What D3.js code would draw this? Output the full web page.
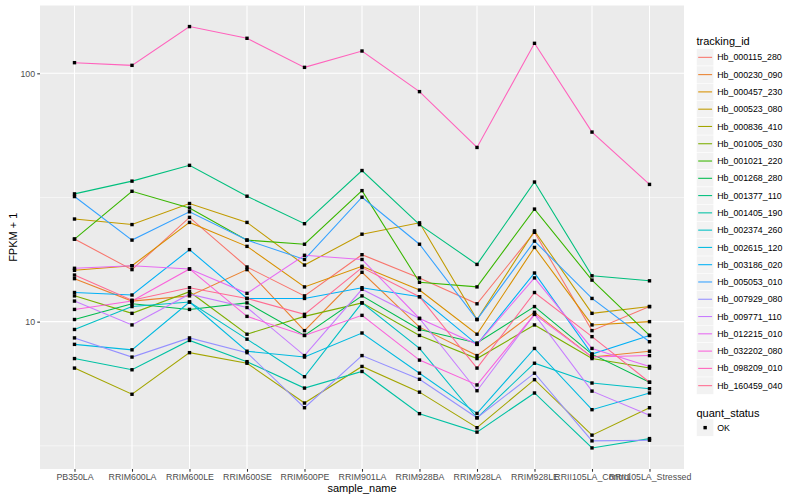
<!DOCTYPE html>
<html>
<head>
<meta charset="utf-8">
<script src="https://cdn.jsdelivr.net/npm/d3@7"></script>
<style>
  body { margin: 0; background: #fff; }
  text { font-family: "Liberation Sans", Arial, sans-serif; }
</style>
</head>
<body>
<svg id="chart" width="800" height="500"></svg>
<script>
// x categories
const samples = ["PB350LA", "RRIM600LA", "RRIM600LE", "RRIM600SE", "RRIM600PE", "RRIM901LA",
  "RRIM928BA", "RRIM928LA", "RRIM928LE", "RRII105LA_Control", "RRII105LA_Stressed"];

// FPKM + 1 per gene, same order as samples
const hb000115_280 = [21.5, 16.2, 26.3, 16.6, 12.7, 18.6, 15.0, 11.8, 22.9, 9.2, 11.5];
const hb000230_090 = [14.9, 12.1, 12.7, 16.2, 9.2, 15.8, 9.5, 7.3, 10.9, 7.2, 7.6];
const hb000457_230 = [16.1, 16.8, 25.1, 20.1, 13.8, 16.7, 13.4, 8.9, 19.9, 9.7, 10.0];
const hb000523_080 = [25.9, 24.6, 29.9, 25.1, 16.9, 22.5, 25.0, 10.2, 23.2, 10.8, 11.5];
const hb000836_410 = [6.5, 5.1, 7.5, 6.8, 4.7, 6.6, 5.2, 3.74, 5.84, 3.49, 4.5];
const hb001005_030 = [12.7, 10.8, 13.2, 8.9, 10.5, 11.9, 8.8, 7.1, 9.7, 7.1, 6.5];
const hb001021_220 = [21.5, 33.5, 28.7, 21.3, 20.5, 33.7, 14.4, 13.8, 28.4, 14.7, 8.8];
const hb001268_280 = [10.2, 11.8, 11.2, 11.9, 8.8, 12.7, 9.3, 8.2, 11.5, 7.4, 5.7];
const hb001377_110 = [32.7, 36.8, 42.6, 32.0, 24.8, 40.6, 24.6, 17.0, 36.5, 15.3, 14.6];
const hb001405_190 = [7.1, 6.4, 8.4, 6.9, 5.4, 6.3, 4.26, 3.59, 5.16, 3.10, 3.38];
const hb002374_260 = [9.3, 11.5, 12.0, 8.5, 6.0, 11.9, 7.8, 4.1, 6.8, 5.66, 5.37];
const hb002615_120 = [8.1, 7.7, 12.0, 7.6, 7.2, 9.0, 6.2, 4.27, 7.8, 4.42, 5.16];
const hb003186_020 = [13.1, 12.8, 19.5, 12.4, 12.4, 13.7, 12.6, 8.1, 15.7, 7.4, 8.8];
const hb005053_010 = [31.9, 21.3, 27.7, 21.3, 17.8, 31.7, 20.5, 10.2, 21.1, 12.4, 8.3];
const hb007929_080 = [8.6, 7.2, 8.6, 7.5, 4.5, 7.3, 5.86, 4.1, 6.2, 3.31, 3.33];
const hb009771_110 = [12.1, 9.7, 12.9, 11.4, 7.3, 13.5, 10.3, 5.27, 10.7, 5.25, 4.2];
const hb012215_010 = [16.4, 16.8, 16.3, 13.0, 18.5, 17.8, 10.3, 8.1, 15.0, 7.8, 6.6];
const hb032202_080 = [11.2, 12.1, 16.3, 10.5, 8.8, 10.6, 7.0, 5.56, 10.7, 7.2, 7.3];
const hb098209_010 = [110.4, 107.7, 154.3, 138.4, 105.7, 123, 84.4, 50.3, 132.1, 58, 35.7];
const hb160459_040 = [15.4, 12.2, 13.7, 12.4, 10.7, 16.5, 12.6, 6.5, 13.1, 8.7, 5.7];

const trackingIds = ["Hb_000115_280", "Hb_000230_090", "Hb_000457_230", "Hb_000523_080",
  "Hb_000836_410", "Hb_001005_030", "Hb_001021_220", "Hb_001268_280", "Hb_001377_110",
  "Hb_001405_190", "Hb_002374_260", "Hb_002615_120", "Hb_003186_020", "Hb_005053_010",
  "Hb_007929_080", "Hb_009771_110", "Hb_012215_010", "Hb_032202_080", "Hb_098209_010",
  "Hb_160459_040"];
const seriesValues = [hb000115_280, hb000230_090, hb000457_230, hb000523_080, hb000836_410,
  hb001005_030, hb001021_220, hb001268_280, hb001377_110, hb001405_190, hb002374_260,
  hb002615_120, hb003186_020, hb005053_010, hb007929_080, hb009771_110, hb012215_010,
  hb032202_080, hb098209_010, hb160459_040];

const yMajor = [10, 100];
const yMinor = [Math.sqrt(10), Math.sqrt(1000)];
const quantStatus = ["OK"];

// ggplot default hue palette for 20 levels
const palette = ["#F8766D", "#EA8331", "#D89000", "#C09B00", "#A3A500", "#7CAE00", "#39B600",
  "#00BB4E", "#00BF7D", "#00C1A3", "#00BFC4", "#00BAE0", "#00B0F6", "#35A2FF", "#9590FF",
  "#C77CFF", "#E76BF3", "#FA62DB", "#FF62BC", "#FF6C91"];

const series = trackingIds.map((id, i) => ({
  id: id,
  values: samples.map((s, j) => ({ sample: s, value: seriesValues[i][j] }))
}));

const panel = { left: 40, right: 684, top: 5.5, bottom: 469 };
const svg = d3.select("#chart");
svg.append("rect").attr("width", 800).attr("height", 500).attr("fill", "#fff");

const x = d3.scalePoint().domain(samples).range([panel.left, panel.right]).padding(0.6);

// log scale with 5% expansion like ggplot
const all = seriesValues.flat();
const lo = Math.log10(d3.min(all)), hi = Math.log10(d3.max(all));
const pad = (hi - lo) * 0.05;
const y = d3.scaleLog()
  .domain([Math.pow(10, lo - pad), Math.pow(10, hi + pad)])
  .range([panel.bottom, panel.top]);

const color = d3.scaleOrdinal().domain(trackingIds).range(palette);

svg.append("rect")
  .attr("x", panel.left).attr("y", panel.top)
  .attr("width", panel.right - panel.left).attr("height", panel.bottom - panel.top)
  .attr("fill", "#EBEBEB");

const grid = svg.append("g");
grid.selectAll(".minor").data(yMinor).enter().append("line")
  .attr("x1", panel.left).attr("x2", panel.right)
  .attr("y1", d => y(d)).attr("y2", d => y(d))
  .attr("stroke", "#fff").attr("stroke-width", 0.53);
grid.selectAll(".majory").data(yMajor).enter().append("line")
  .attr("x1", panel.left).attr("x2", panel.right)
  .attr("y1", d => y(d)).attr("y2", d => y(d))
  .attr("stroke", "#fff").attr("stroke-width", 1.07);
grid.selectAll(".majorx").data(samples).enter().append("line")
  .attr("x1", d => x(d)).attr("x2", d => x(d))
  .attr("y1", panel.top).attr("y2", panel.bottom)
  .attr("stroke", "#fff").attr("stroke-width", 1.07);

const line = d3.line().x(d => x(d.sample)).y(d => y(d.value));

svg.append("g").selectAll("path").data(series).enter().append("path")
  .attr("d", d => line(d.values))
  .attr("fill", "none")
  .attr("stroke", d => color(d.id))
  .attr("stroke-width", 1.07);

const pts = 3.4;
svg.append("g").selectAll("g").data(series).enter().append("g")
  .selectAll("rect").data(d => d.values).enter().append("rect")
  .attr("x", d => x(d.sample) - pts / 2)
  .attr("y", d => y(d.value) - pts / 2)
  .attr("width", pts).attr("height", pts)
  .attr("fill", "#000");

// axes
const xAxis = svg.append("g")
  .attr("transform", `translate(0,${panel.bottom})`)
  .call(d3.axisBottom(x).tickSize(2.75).tickPadding(2.2));
const yAxis = svg.append("g")
  .attr("transform", `translate(${panel.left},0)`)
  .call(d3.axisLeft(y).tickValues(yMajor).tickFormat(d3.format("d")).tickSize(2.75).tickPadding(2.2));
[xAxis, yAxis].forEach(a => {
  a.select(".domain").remove();
  a.selectAll(".tick line").attr("stroke", "#333").attr("stroke-width", 1.07);
  a.selectAll(".tick text").attr("fill", "#4D4D4D").style("font-size", "8.8px")
    .style("font-family", "'Liberation Sans', Arial, sans-serif");
});

svg.append("text")
  .attr("x", (panel.left + panel.right) / 2).attr("y", 492)
  .attr("text-anchor", "middle").style("font-size", "11px").text("sample_name");
svg.append("text")
  .attr("transform", `translate(17,${(panel.top + panel.bottom) / 2}) rotate(-90)`)
  .attr("text-anchor", "middle").style("font-size", "11px").text("FPKM + 1");

// legend
const key = 17.28;
const legX = 696.5;
const leg = svg.append("g");
leg.append("text").attr("x", legX).attr("y", 44.6).style("font-size", "11px").text("tracking_id");
const items = leg.selectAll(".item").data(trackingIds).enter().append("g")
  .attr("transform", (d, i) => `translate(${legX},${48.7 + i * key})`);
items.append("rect").attr("width", key).attr("height", key)
  .attr("fill", "#F2F2F2").attr("stroke", "#fff").attr("stroke-width", 0.5);
items.append("line").attr("x1", 1.7).attr("x2", key - 1.7)
  .attr("y1", key / 2).attr("y2", key / 2)
  .attr("stroke", d => color(d)).attr("stroke-width", 1.07);
items.append("text").attr("x", key + 3.5).attr("y", key / 2 + 3.1)
  .style("font-size", "8.8px").text(d => d);

leg.append("text").attr("x", legX).attr("y", 416.6).style("font-size", "11px").text("quant_status");
const q = leg.selectAll(".q").data(quantStatus).enter().append("g")
  .attr("transform", (d, i) => `translate(${legX},${419 + i * key})`);
q.append("rect").attr("width", key).attr("height", key)
  .attr("fill", "#F2F2F2").attr("stroke", "#fff").attr("stroke-width", 0.5);
q.append("rect").attr("x", key / 2 - pts / 2).attr("y", key / 2 - pts / 2)
  .attr("width", pts).attr("height", pts).attr("fill", "#000");
q.append("text").attr("x", key + 3.5).attr("y", key / 2 + 3.1)
  .style("font-size", "8.8px").text(d => d);
</script>
</body>
</html>
